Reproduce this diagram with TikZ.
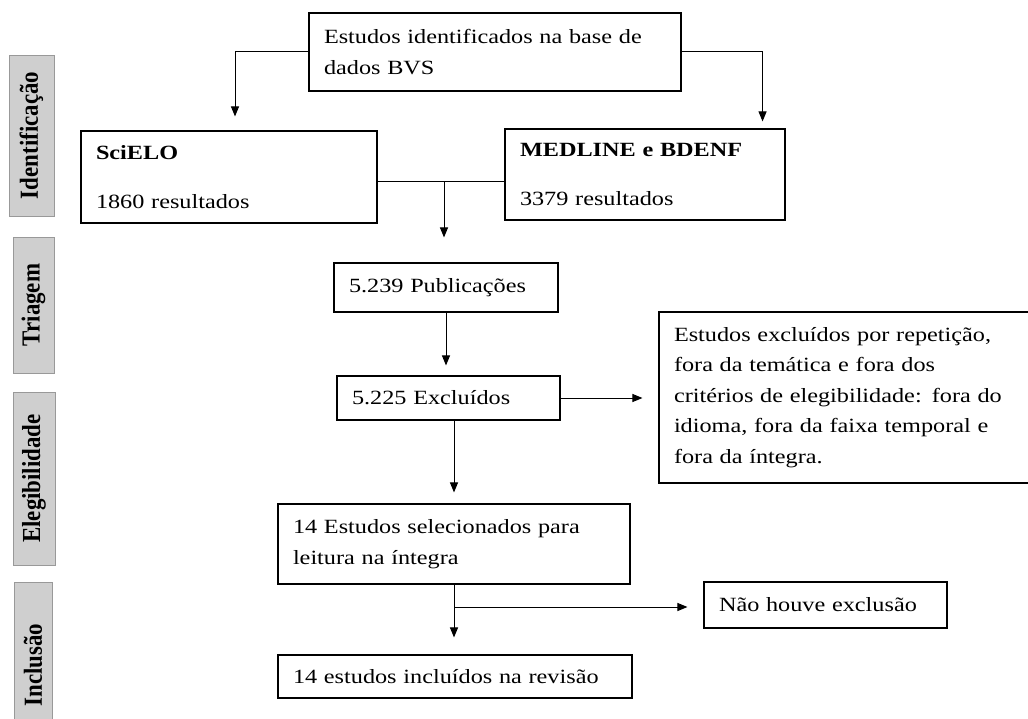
\documentclass[tikz,border=0pt]{standalone}
\usepackage{fontspec}
\setmainfont{Liberation Serif}[FakeStretch=1.2]
\newfontfamily\stagefont{Liberation Serif}[FakeStretch=0.88]
\usetikzlibrary{arrows.meta}

\begin{document}
\begin{tikzpicture}[x=1pt, y=-1pt, >={Triangle[length=10pt, width=8pt]},
    box/.style={draw, line width=1.1pt, inner xsep=15pt, align=left, font=\fontsize{20.2}{30.5}\selectfont},
    stage/.style={draw=black!40, fill=black!19, rotate=90, inner sep=0pt, font=\stagefont\bfseries\fontsize{26}{30}\selectfont},
    link/.style={line width=1pt}]
    \useasboundingbox (0,0) rectangle (1028,719);
    \clip (0,0) rectangle (1028,719);

    % Stages
    \node[stage, minimum width=161pt, minimum height=45pt] (ident) at (31.5,135.5) {Identificação};
    \node[stage, minimum width=136pt, minimum height=41pt] (triag) at (33.5,305) {Triagem};
    \node[stage, minimum width=173pt, minimum height=42pt] (eleg) at (34,478.5) {Elegibilidade};
    \node[stage, minimum width=166pt, minimum height=38pt] (inclu) at (33,665) {Inclusão};

    % Boxes
    \node[box, text width=342pt, minimum height=78pt] (bvs) at (495,52) {
        Estudos identificados na base de\\
        dados BVS
    };
    \node[box, text width=266pt, minimum height=92pt] (scielo) at (229,177) {
        \textbf{SciELO}\\[18pt]
        1860 resultados
    };
    \node[box, text width=250pt, minimum height=91pt] (medline) at (645,174.5) {
        \textbf{MEDLINE e BDENF}\\[18pt]
        3379 resultados
    };
    \node[box, text width=194pt, minimum height=49pt] (pub) at (446,287.5) {5.239 Publicações};
    \node[box, text width=193pt, minimum height=44pt] (excl) at (448.5,398) {5.225 Excluídos};
    \node[box, text width=341pt, minimum height=171pt] (motivos) at (844.5,397.5) {
        Estudos excluídos por repetição,\\
        fora da temática e fora dos\\
        critérios de elegibilidade: fora do\\
        idioma, fora da faixa temporal e\\
        fora da íntegra.
    };
    \node[box, text width=322pt, minimum height=80pt] (selec) at (454,544) {
        14 Estudos selecionados para\\
        leitura na íntegra
    };
    \node[box, text width=213pt, minimum height=46pt] (nao) at (825.5,605) {Não houve exclusão};
    \node[box, text width=324pt, minimum height=43pt] (incl) at (455,676.5) {14 estudos incluídos na revisão};

    % Connectors
    \coordinate (join) at (444,182);
    \coordinate (branch) at (454,607);
    \draw[link, ->, shorten >=14pt] (bvs.west) -| ([xshift=6pt]scielo.north);
    \draw[link, ->, shorten >=7pt] (bvs.east) -| ([xshift=-23pt]medline.north east);
    \draw[link] (scielo.east |- join) -- (medline.west |- join);
    \draw[link, ->, shorten >=25pt] (join) -- (join |- pub.north);
    \draw[link, ->, shorten >=10pt] (pub.south) -- (pub.south |- excl.north);
    \draw[link, ->, shorten >=16pt] (excl.east) -- (excl.east -| motivos.west);
    \draw[link, ->, shorten >=11pt] (excl.south -| selec.north) -- (selec.north);
    \draw[link, ->, shorten >=17pt] (selec.south) -- (selec.south |- incl.north);
    \draw[link, ->, shorten >=16pt] (branch) -- (branch -| nao.west);
\end{tikzpicture}
\end{document}
